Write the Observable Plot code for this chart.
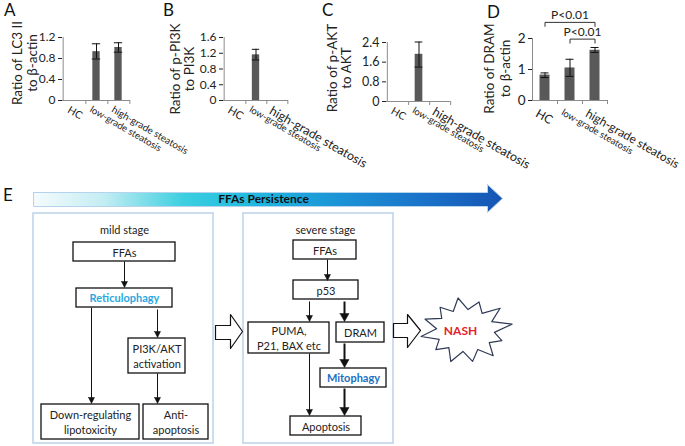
<!DOCTYPE html>
<html><head><meta charset="utf-8">
<script src="https://cdn.jsdelivr.net/npm/d3@7"></script>
<script src="https://cdn.jsdelivr.net/npm/@observablehq/plot@0.6"></script>
<style>
body{margin:0;background:#fff;}
#fig{position:relative;width:685px;height:446px;overflow:hidden;font-family:Lato,"Open Sans",sans-serif;background:#fff}
.pl{position:absolute;top:0}
.letter{position:absolute;font-size:17px;color:#111;line-height:1;font-family:Lato,sans-serif}
</style></head>
<body>
<svg width="0" height="0" style="position:absolute">
 <defs>
  <linearGradient id="ffaGrad" x1="0" y1="0" x2="1" y2="0">
   <stop offset="0" stop-color="#f5fbfd"/>
   <stop offset="0.15" stop-color="#c3edf3"/>
   <stop offset="0.32" stop-color="#3ccfe0"/>
   <stop offset="0.48" stop-color="#1fb6df"/>
   <stop offset="0.65" stop-color="#1c93d6"/>
   <stop offset="0.85" stop-color="#1a6fc7"/>
   <stop offset="1" stop-color="#1554b3"/>
  </linearGradient>
 </defs>
</svg>
<div id="fig"></div>
<script>
// ---------- data ----------
const categories = ["HC", "low-grade steatosis", "high-grade steatosis"];

const lc3Mean = [null, 0.93, 1.01];
const lc3Low  = [null, 0.79, 0.92];
const lc3High = [null, 1.08, 1.10];
const lc3Ticks = [0, 0.4, 0.8, 1.2];

const pi3kMean = [null, 1.16, null];
const pi3kLow  = [null, 1.03, null];
const pi3kHigh = [null, 1.30, null];
const pi3kTicks = [0, 0.4, 0.8, 1.2, 1.6];

const aktMean = [null, 1.92, null];
const aktLow  = [null, 1.40, null];
const aktHigh = [null, 2.42, null];
const aktTicks = [0, 0.8, 1.6, 2.4];

const dramMean = [0.82, 1.05, 1.62];
const dramLow  = [0.74, 0.78, 1.55];
const dramHigh = [0.89, 1.33, 1.71];
const dramTicks = [0, 1, 2];

const sigPairs = [[0, 2], [1, 2]];
const sigLabels = ["P<0.01", "P<0.01"];
const sigLevels = [2.52, 1.98];

const panelLetters = ["A", "B", "C", "D", "E"];
const yTitles = ["Ratio of LC3 II\nto β-actin", "Ratio of p-PI3K\nto PI3K", "Ratio of p-AKT\nto AKT", "Ratio of DRAM\nto β-actin"];

// diagram content
const arrowTitle = "FFAs Persistence";
const stageLabels = ["mild stage", "severe stage"];
const nodeLabels = ["FFAs", "Reticulophagy", "PI3K/AKT\nactivation", "Down-regulating\nlipotoxicity", "Anti-\napoptosis",
  "FFAs", "p53", "PUMA,\nP21, BAX etc", "DRAM", "Mitophagy", "Apoptosis"];
const nodeHighlight = [null, "#29a8e0", null, null, null, null, null, null, null, "#1d6fc2", null];
const outcomeLabel = "NASH";

// diagram layout (pixel units of the figure)
const stageBoxes = [[33, 213, 213, 443], [243, 213, 393, 443]];
const stageLabelPos = [[124, 230], [325, 230]];
const nodeBoxes = [
  [73, 242, 175, 261], [76, 288, 172, 307], [128, 338, 185, 373], [41, 404, 139, 439], [143, 404, 208, 439],
  [293, 240, 356, 259], [293, 280, 358, 299], [248, 322, 329, 353], [336, 322, 384, 342], [320, 368, 386, 387], [290, 416, 361, 435]
];
const edges = [
  [124, 261, 124, 287, 0], [91, 307, 91, 403, 0], [157, 309, 157, 337, 0], [157, 373, 157, 403, 0],
  [327, 259, 327, 280, 0], [309, 301, 309, 321, 0], [344, 301, 344, 321, 1], [344, 343, 344, 367, 1],
  [309, 353, 309, 415, 0], [344, 388, 344, 415, 1]
];
const bigArrow = [[33, 192], [487, 192], [487, 184], [502, 198], [487, 212], [487, 206], [33, 206], [33, 192]];
const blockArrows = [
  [[215, 325], [230, 325], [230, 314], [242, 331], [230, 348], [230, 339], [215, 339], [215, 325]],
  [[393, 323], [407, 323], [407, 314], [420, 330], [407, 347], [407, 337], [393, 337], [393, 323]]
];
const starCenter = [465, 330];

// ---------- drawing ----------
const fig = document.getElementById("fig");
const baseStyle = {background: "transparent", fontFamily: "Lato, sans-serif", fontSize: "12px", color: "#222", overflow: "visible", maxWidth: "none"};

function barPanel(o) {
  const rows = categories.map((c, i) => ({cat: c, mean: o.mean[i], lo: o.low[i], hi: o.high[i]})).filter(d => d.mean != null);
  const fw = o.width - o.ml - o.mr, fh = o.height - o.mt - o.mb;
  const bw = fw / categories.length;
  const ymax = o.ticks[o.ticks.length - 1];
  const unit = ymax / fh;
  const barInset = (bw - o.barW) / 2, capInset = (bw - o.capW) / 2;
  const marks = [
    Plot.barY(rows, {x: "cat", y: "mean", fill: "#595959", insetLeft: barInset, insetRight: barInset}),
    Plot.ruleX(rows, {x: "cat", y1: "lo", y2: "hi", stroke: "#111", strokeWidth: 1}),
    Plot.tickY(rows, {x: "cat", y: "lo", stroke: "#111", insetLeft: capInset, insetRight: capInset}),
    Plot.tickY(rows, {x: "cat", y: "hi", stroke: "#111", insetLeft: capInset, insetRight: capInset}),
    Plot.ruleY([0], {stroke: "#8c8c8c"}),
    Plot.ruleX([categories[0]], {y1: 0, y2: ymax, dx: -bw / 2, stroke: "#8c8c8c"}),
    Plot.ruleX(categories, {y1: 0, y2: -4 * unit, dx: bw / 2, stroke: "#8c8c8c"}),
    Plot.text(categories, {x: d => d, frameAnchor: "bottom", rotate: 30, textAnchor: "start", lineAnchor: "top",
      dx: o.catDx, dy: o.catDy, fontSize: (d, i) => o.catFont[i], fill: "#222"}),
    Plot.text([o.title], {frameAnchor: "left", rotate: -90, textAnchor: "middle", lineAnchor: "middle",
      dx: o.titleDx, dy: o.titleDy, fontSize: 13.5, lineHeight: o.titleLH, fill: "#222"})
  ];
  if (o.sig) {
    const pts = [];
    sigPairs.forEach(([a, b], k) => {
      const lv = sigLevels[k], leg = 4 * unit;
      pts.push({k, x: categories[a], y: lv - leg}, {k, x: categories[a], y: lv}, {k, x: categories[b], y: lv}, {k, x: categories[b], y: lv - leg});
    });
    marks.push(Plot.line(pts, {x: "x", y: "y", z: "k", stroke: "#333", strokeWidth: 1}));
    sigPairs.forEach(([a, b], k) => {
      const mid = (a + b) / 2, fl = Math.floor(mid);
      marks.push(Plot.text([sigLabels[k]], {x: () => categories[fl], y: () => sigLevels[k], dx: (mid - fl) * bw, dy: -7, fontSize: 12, fill: "#222"}));
    });
  }
  const svg = Plot.plot({
    width: o.width, height: o.height,
    marginLeft: o.ml, marginRight: o.mr, marginTop: o.mt, marginBottom: o.mb,
    x: {domain: categories, padding: 0, axis: null},
    y: {domain: [0, ymax], ticks: o.ticks, tickSize: 4, tickPadding: 3, tickFormat: d => String(d), label: null},
    style: {...baseStyle, fontSize: o.tickFont + "px"},
    marks
  });
  const wrap = document.createElement("div");
  wrap.className = "pl";
  wrap.style.left = o.left + "px";
  wrap.style.width = o.width + "px";
  wrap.appendChild(svg);
  fig.appendChild(wrap);
}

barPanel({left: 0, width: 170, height: 180, ml: 62, mr: 40, mt: 37, mb: 80, mean: lc3Mean, low: lc3Low, high: lc3High,
  ticks: lc3Ticks, barW: 8, capW: 9, catFont: [10.5, 9.5, 9.8], catDx: -4, catDy: 5,
  title: yTitles[0], titleDx: -37.5, titleDy: -6, titleLH: 1.12, tickFont: 12});
barPanel({left: 165, width: 170, height: 180, ml: 58, mr: 47, mt: 37, mb: 80, mean: pi3kMean, low: pi3kLow, high: pi3kHigh,
  ticks: pi3kTicks, barW: 8, capW: 8, catFont: [11, 9.5, 12.5], catDx: -4, catDy: 5,
  title: yTitles[1], titleDx: -41, titleDy: 0, titleLH: 1.05, tickFont: 12});
barPanel({left: 330, width: 160, height: 180, ml: 56, mr: 40, mt: 42, mb: 79, mean: aktMean, low: aktLow, high: aktHigh,
  ticks: aktTicks, barW: 8, capW: 8, catFont: [10.5, 9.5, 12.5], catDx: -4, catDy: 5,
  title: yTitles[2], titleDx: -47, titleDy: -4, titleLH: 1.05, tickFont: 12.5});
barPanel({left: 480, width: 205, height: 180, ml: 52, mr: 78, mt: 38, mb: 80, mean: dramMean, low: dramLow, high: dramHigh,
  ticks: dramTicks, barW: 10, capW: 8, catFont: [12, 9.5, 12], catDx: -6, catDy: 8,
  title: yTitles[3], titleDx: -36, titleDy: -1, titleLH: 1.18, tickFont: 13.5, sig: true});

// diagram
const nodes = nodeLabels.map((label, i) => ({label, x1: nodeBoxes[i][0], y1: nodeBoxes[i][1], x2: nodeBoxes[i][2], y2: nodeBoxes[i][3], hl: nodeHighlight[i]}));
const stages = stageLabels.map((label, i) => ({label, x1: stageBoxes[i][0], y1: stageBoxes[i][1], x2: stageBoxes[i][2], y2: stageBoxes[i][3], lx: stageLabelPos[i][0], ly: stageLabelPos[i][1]}));
const edgeRows = edges.map(([x1, y1, x2, y2, t], i) => ({i, x1, y1, x2, y2, t, L: t ? 8 : 6, hw: t ? 4.5 : 3}));
const headPts = [];
edgeRows.forEach(e => {
  headPts.push({i: e.i, x: e.x2 - e.hw, y: e.y2 - e.L}, {i: e.i, x: e.x2 + e.hw, y: e.y2 - e.L}, {i: e.i, x: e.x2, y: e.y2}, {i: e.i, x: e.x2 - e.hw, y: e.y2 - e.L});
});

// explosion outline around the outcome
const spikeAngles = [-100, -70, -40, -10, 20, 50, 80, 110, 140, 170, 200, 230];
const spikeReach = [1.0, 0.92, 1.05, 1.1, 0.9, 1.0, 0.95, 1.0, 0.9, 1.05, 1.0, 0.92];
const starPts = [];
spikeAngles.forEach((a, i) => {
  const r1 = a * Math.PI / 180, r2 = (a + 15) * Math.PI / 180;
  starPts.push([starCenter[0] + 43 * spikeReach[i] * Math.cos(r1), starCenter[1] + 33 * spikeReach[i] * Math.sin(r1)]);
  starPts.push([starCenter[0] + 29 * Math.cos(r2), starCenter[1] + 21 * Math.sin(r2)]);
});
starPts.push(starPts[0]);

const diagram = Plot.plot({
  width: 685, height: 266, margin: 0,
  x: {domain: [0, 685], range: [0, 685], axis: null},
  y: {domain: [180, 446], range: [0, 266], axis: null},
  style: {...baseStyle, fontSize: "11px"},
  marks: [
    Plot.line(bigArrow, {fill: "url(#ffaGrad)", stroke: "#b5d3ec", strokeWidth: 1}),
    Plot.text([arrowTitle], {x: () => 263, y: () => 199, fontWeight: "bold", fontSize: 12, fill: "#111"}),
    Plot.rect(stages, {x1: "x1", x2: "x2", y1: "y1", y2: "y2", fill: "white", stroke: "#bcd2ea", strokeWidth: 1.5}),
    Plot.text(stages, {x: "lx", y: "ly", text: "label", fontSize: 11, fill: "#222"}),
    Plot.rect(nodes, {x1: "x1", x2: "x2", y1: "y1", y2: "y2", fill: "white", stroke: "#111", strokeWidth: 1.3}),
    Plot.text(nodes.filter(d => !d.hl), {x: d => (d.x1 + d.x2) / 2, y: d => (d.y1 + d.y2) / 2, text: "label", fontSize: 11, lineHeight: 1.3, fill: "#222"}),
    Plot.text(nodes.filter(d => d.hl && d.label === "Reticulophagy"), {x: d => (d.x1 + d.x2) / 2, y: d => (d.y1 + d.y2) / 2, text: "label", fontSize: 11, fontWeight: "bold", fill: "#29a8e0"}),
    Plot.text(nodes.filter(d => d.hl && d.label === "Mitophagy"), {x: d => (d.x1 + d.x2) / 2, y: d => (d.y1 + d.y2) / 2, text: "label", fontSize: 11, fontWeight: "bold", fill: "#1d6fc2"}),
    Plot.link(edgeRows.filter(d => !d.t), {x1: "x1", y1: "y1", x2: "x2", y2: d => d.y2 - d.L + 1, stroke: "#111", strokeWidth: 1}),
    Plot.link(edgeRows.filter(d => d.t), {x1: "x1", y1: "y1", x2: "x2", y2: d => d.y2 - d.L + 1, stroke: "#111", strokeWidth: 2}),
    Plot.line(headPts, {x: "x", y: "y", z: "i", fill: "#111", stroke: "#111", strokeWidth: 0.5}),
    Plot.line(blockArrows[0], {fill: "white", stroke: "#111", strokeWidth: 1.2}),
    Plot.line(blockArrows[1], {fill: "white", stroke: "#111", strokeWidth: 1.2}),
    Plot.line(starPts, {fill: "white", stroke: "#2f3a56", strokeWidth: 1.2}),
    Plot.text([outcomeLabel], {x: () => starCenter[0] - 5, y: () => starCenter[1] + 1, fontWeight: "bold", fontSize: 12, fill: "#e3222b"})
  ]
});
const dwrap = document.createElement("div");
dwrap.className = "pl";
dwrap.style.left = "0px"; dwrap.style.top = "180px"; dwrap.style.width = "685px";
dwrap.appendChild(diagram);
fig.appendChild(dwrap);

// panel letters
const letterPos = [[4, 1], [163, 1], [322, 1], [487, 3], [3, 186]];
panelLetters.forEach((t, i) => {
  const d = document.createElement("div");
  d.className = "letter";
  d.textContent = t;
  d.style.left = letterPos[i][0] + "px";
  d.style.top = letterPos[i][1] + "px";
  fig.appendChild(d);
});
</script>
</body></html>
